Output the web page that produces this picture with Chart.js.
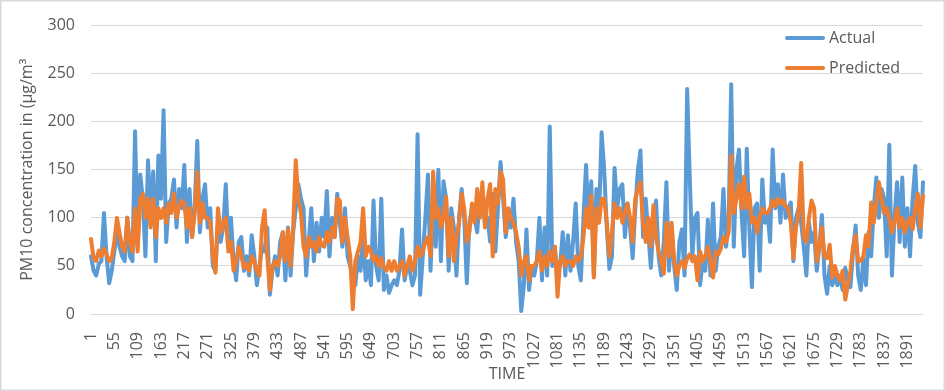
<!DOCTYPE html>
<html><head><meta charset="utf-8">
<script src="https://cdn.jsdelivr.net/npm/chart.js@4/dist/chart.umd.min.js"></script>
<style>html,body{margin:0;padding:0;background:#fff;} #wrap{position:relative;width:945px;height:391px;}</style>
</head><body><div id="wrap"><canvas id="c" width="945" height="391"></canvas></div>
<script>
// Sampled every 6th time step (1, 7, 13, ...)
const STEP = 6;
const actual = [
 60, 45, 40, 52, 55, 105, 60, 32, 45,
 65, 85, 70, 60, 55, 100, 60, 55, 190,
 70, 145, 120, 60, 160, 100, 148, 55, 165,
 120, 212, 75, 115, 120, 140, 90, 130, 110,
 155, 75, 130, 80, 110, 180, 85, 120, 135,
 90, 110, 50, 45, 95, 75, 90, 135, 70,
 100, 55, 35, 75, 80, 45, 60, 40, 82,
 60, 30, 50, 70, 65, 90, 20, 45, 60,
 40, 75, 85, 35, 90, 40, 85, 110, 135,
 120, 110, 40, 75, 110, 55, 95, 65, 100,
 80, 128, 60, 100, 80, 125, 95, 70, 110,
 60, 50, 35, 30, 60, 45, 80, 35, 55,
 30, 118, 50, 35, 120, 25, 40, 22, 30,
 35, 30, 45, 88, 35, 50, 45, 30, 40,
 187, 20, 60, 100, 145, 45, 120, 70, 150,
 55, 138, 120, 45, 110, 90, 40, 100, 130,
 100, 32, 95, 110, 100, 85, 120, 115, 95,
 100, 75, 125, 65, 110, 158, 120, 80, 100,
 90, 120, 75, 55, 3, 30, 88, 25, 50,
 40, 55, 100, 35, 90, 40, 195, 50, 65,
 45, 50, 85, 40, 82, 45, 75, 115, 50,
 35, 100, 155, 90, 138, 40, 130, 100, 189,
 150, 90, 47, 60, 152, 110, 130, 135, 80,
 115, 90, 58, 110, 150, 170, 80, 120, 85,
 48, 95, 118, 60, 40, 75, 137, 45, 90,
 50, 25, 75, 88, 40, 234, 143, 60, 100,
 105, 30, 55, 45, 98, 40, 115, 45, 70,
 80, 130, 70, 95, 239, 70, 150, 171, 105,
 60, 172, 90, 28, 110, 115, 45, 140, 95,
 105, 75, 171, 110, 135, 95, 145, 100, 110,
 116, 55, 100, 110, 95, 70, 40, 95, 75,
 85, 45, 70, 103, 40, 21, 50, 30, 40,
 30, 40, 25, 48, 35, 28, 65, 92, 40,
 25, 57, 30, 85, 60, 110, 142, 100, 130,
 120, 60, 176, 40, 100, 137, 75, 142, 70,
 110, 60, 120, 154, 95, 80, 137
];
const predicted = [
 78, 58, 55, 66, 60, 68, 62, 55, 58,
 75, 100, 85, 70, 65, 100, 75, 65, 110,
 65, 120, 125, 100, 120, 90, 120, 80, 110,
 100, 110, 95, 115, 105, 125, 100, 112, 118,
 115, 90, 110, 80, 105, 148, 95, 115, 100,
 100, 95, 60, 43, 110, 85, 95, 100, 65,
 75, 45, 55, 70, 60, 48, 52, 45, 60,
 55, 45, 40, 90, 108, 60, 25, 50, 55,
 50, 60, 85, 55, 88, 50, 90, 160, 120,
 105, 70, 60, 80, 70, 75, 65, 80, 72,
 70, 85, 75, 90, 80, 120, 118, 75, 100,
 80, 60, 5, 55, 65, 75, 110, 60, 70,
 65, 55, 60, 50, 58, 48, 45, 55, 45,
 55, 45, 50, 55, 40, 50, 60, 45, 55,
 70, 60, 65, 75, 80, 60, 148, 100, 110,
 90, 100, 122, 60, 100, 55, 80, 95, 125,
 110, 75, 85, 115, 95, 130, 100, 137, 90,
 120, 135, 60, 130, 115, 148, 140, 85, 110,
 100, 95, 85, 70, 40, 55, 60, 35, 50,
 50, 55, 65, 45, 60, 50, 65, 55, 70,
 18, 55, 60, 50, 55, 55, 50, 60, 55,
 60, 80, 110, 90, 123, 38, 110, 95, 120,
 120, 95, 60, 85, 115, 100, 110, 95, 105,
 115, 100, 75, 120, 130, 137, 95, 75, 100,
 70, 113, 80, 65, 55, 42, 95, 60, 95,
 55, 40, 50, 55, 48, 58, 62, 55, 60,
 35, 65, 55, 60, 70, 55, 38, 65, 62,
 68, 80, 75, 85, 165, 105, 120, 135, 110,
 143, 110, 125, 95, 100, 85, 100, 110, 105,
 105, 110, 118, 112, 120, 115, 118, 112, 110,
 95, 58, 90, 105, 157, 80, 75, 100, 118,
 110, 55, 68, 90, 60, 58, 72, 38, 50,
 40, 35, 45, 15, 30, 45, 70, 82, 55,
 55, 60, 82, 70, 116, 95, 115, 137, 120,
 105, 110, 100, 85, 95, 110, 90, 100, 85,
 95, 100, 88, 110, 125, 90, 123
];
const timeIndex = actual.map((_, i) => 1 + i * STEP);
const xTickLabels = [1,55,109,163,217,271,325,379,433,487,541,595,649,703,757,811,865,919,973,1027,1081,1135,1189,1243,1297,1351,1405,1459,1513,1567,1621,1675,1729,1783,1837,1891];
const seriesNames = ['Actual', 'Predicted'];
const seriesColors = ['#5B9BD5', '#ED7D31'];

Chart.defaults.font.family = "'Open Sans', sans-serif";
Chart.defaults.color = '#595959';

const bgPlugin = {
  id: 'bg',
  beforeDraw(chart) {
    const c = chart.ctx;
    c.save(); c.fillStyle = '#fff'; c.fillRect(0, 0, chart.width, chart.height); c.restore();
  },
  afterDraw(chart) {
    const c = chart.ctx;
    c.save(); c.strokeStyle = '#d9d9d9'; c.lineWidth = 1.5;
    c.strokeRect(0.75, 0.75, chart.width - 1.5, chart.height - 1.5); c.restore();
  }
};

const legendPlugin = {
  id: 'insideLegend',
  afterDatasetsDraw(chart) {
    const c = chart.ctx;
    const rowsY = [38, 68];
    c.save();
    chart.data.datasets.forEach((ds, i) => {
      const y = rowsY[i];
      c.strokeStyle = ds.borderColor; c.lineWidth = 4; c.lineCap = 'round';
      c.beginPath(); c.moveTo(787, y); c.lineTo(823, y); c.stroke();
      c.fillStyle = '#595959'; c.font = "16px 'Open Sans', sans-serif";
      c.textBaseline = 'middle'; c.textAlign = 'left';
      c.fillText(ds.label, 829, y);
    });
    c.restore();
  }
};

new Chart(document.getElementById('c'), {
  type: 'line',
  data: {
    labels: timeIndex,
    datasets: [
      { label: seriesNames[0], data: actual, borderColor: seriesColors[0], backgroundColor: seriesColors[0],
        borderWidth: 4, pointRadius: 0, tension: 0, fill: false, order: 2,
        borderJoinStyle: 'round', borderCapStyle: 'round' },
      { label: seriesNames[1], data: predicted, borderColor: seriesColors[1], backgroundColor: seriesColors[1],
        borderWidth: 4, pointRadius: 0, tension: 0, fill: false, order: 1,
        borderJoinStyle: 'round', borderCapStyle: 'round' }
    ]
  },
  options: {
    responsive: false, animation: false, devicePixelRatio: 1,
    layout: { padding: { left: 0, right: 22, top: 15, bottom: 0 } },
    plugins: { legend: { display: false }, tooltip: { enabled: false } },
    scales: {
      x: {
        type: 'category', offset: false,
        grid: { display: false }, border: { display: false },
        ticks: {
          autoSkip: false, minRotation: 90, maxRotation: 90, padding: 10,
          font: { size: 16 }, color: '#595959',
          callback: function (v) { const l = this.getLabelForValue(v); return xTickLabels.includes(l) ? String(l) : null; }
        },
        title: { display: true, text: 'TIME', font: { size: 16 }, color: '#595959', padding: { top: 0, bottom: 7 } },
        afterFit(s) { s.height = 77; }
      },
      y: {
        min: 0, max: 300,
        ticks: { stepSize: 50, padding: 16, font: { size: 16 }, color: '#595959' },
        grid: { color: '#d9d9d9', lineWidth: 1, drawTicks: false },
        border: { display: false },
        title: { display: true, text: 'PM10 concentration in (µg/m³', font: { size: 16 }, color: '#595959', padding: { top: 18, bottom: 0 } },
        afterFit(s) { s.width = 91; }
      }
    }
  },
  plugins: [bgPlugin, legendPlugin]
});
</script>
</body></html>
